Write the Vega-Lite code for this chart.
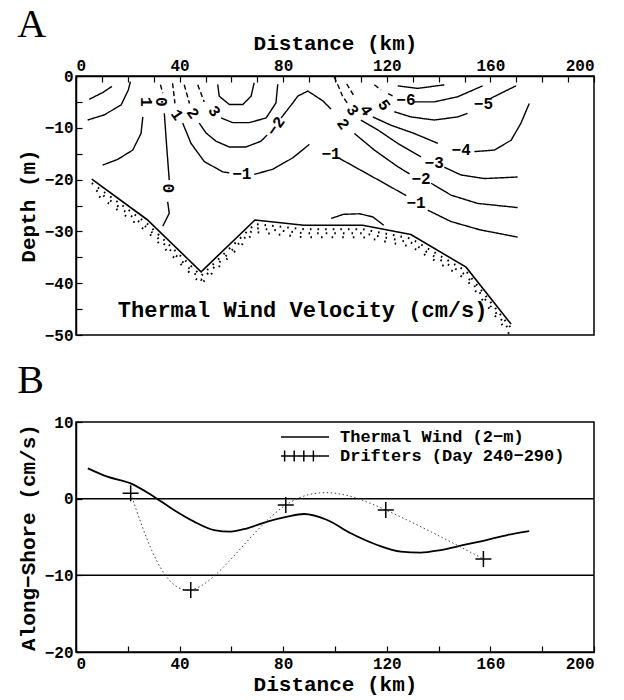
{
  "$schema": "https://vega.github.io/schema/vega-lite/v6.json",
  "padding": {"left": 16, "top": 4, "right": 6, "bottom": 2},
  "spacing": 16,
  "resolve": {"legend": {"shape": "independent"}},
  "config": {
    "view": {"stroke": "black", "strokeWidth": 1.5},
    "axis": {"labelFont": "Liberation Mono", "labelFontWeight": "bold", "labelFontSize": 16, "labelColor": "black", "titleFont": "Liberation Mono", "titleFontWeight": "bold", "titleFontSize": 21, "titleColor": "black", "domainColor": "black", "domainWidth": 1.5, "tickColor": "black", "tickWidth": 1.2, "tickSize": -6, "labelPadding": 9, "grid": false, "labelOverlap": false},
    "title": {"font": "Liberation Serif", "fontSize": 40, "fontWeight": "normal", "color": "black", "anchor": "start", "frame": "bounds"}
  },
  "datasets": {
    "bathymetry": [
      {"km": 6.1, "depth": -19.9}, {"km": 27.4, "depth": -27.7}, {"km": 48.3, "depth": -37.8}, {"km": 69.1, "depth": -27.8}, {"km": 88.0, "depth": -28.8}, {"km": 110.7, "depth": -28.8}, {"km": 129.3, "depth": -30.6}, {"km": 150.6, "depth": -36.9}, {"km": 168.0, "depth": -47.9}
    ],
    "stations": [
      {"km": 6.2}, {"km": 27.4}, {"km": 48.3}, {"km": 69.5}, {"km": 89.2}, {"km": 109.7}, {"km": 130.1}, {"km": 150.2}, {"km": 168.3}
    ],
    "annotations": [
      {"km": 87.5, "depth": -45.2, "note": "Thermal Wind Velocity (cm/s)"}
    ],
    "contours": [
      {"seg": "c1a", "kind": "solid", "km": 5.1, "depth": -4.5}, {"seg": "c1a", "kind": "solid", "km": 10.3, "depth": -3.2}, {"seg": "c1a", "kind": "solid", "km": 13.9, "depth": -2.0},
      {"seg": "c1b", "kind": "solid", "km": 4.5, "depth": -8.5}, {"seg": "c1b", "kind": "solid", "km": 10.9, "depth": -7.5}, {"seg": "c1b", "kind": "solid", "km": 17.4, "depth": -5.6}, {"seg": "c1b", "kind": "solid", "km": 20.2, "depth": -2.7}, {"seg": "c1b", "kind": "solid", "km": 21.0, "depth": -1.1},
      {"seg": "c1c", "kind": "solid", "km": 25.8, "depth": -7.9}, {"seg": "c1c", "kind": "solid", "km": 25.1, "depth": -11.1}, {"seg": "c1c", "kind": "solid", "km": 21.9, "depth": -14.3}, {"seg": "c1c", "kind": "solid", "km": 16.1, "depth": -16.1}, {"seg": "c1c", "kind": "solid", "km": 10.3, "depth": -17.2},
      {"seg": "c0a", "kind": "dashed", "km": 32.6, "depth": -1.7}, {"seg": "c0a", "kind": "dashed", "km": 33.5, "depth": -3.3},
      {"seg": "c0b", "kind": "solid", "km": 34.1, "depth": -7.2}, {"seg": "c0b", "kind": "solid", "km": 35.0, "depth": -13.5}, {"seg": "c0b", "kind": "solid", "km": 36.0, "depth": -20.1},
      {"seg": "c0c", "kind": "solid", "km": 35.4, "depth": -24.3}, {"seg": "c0c", "kind": "solid", "km": 36.0, "depth": -26.5}, {"seg": "c0c", "kind": "solid", "km": 33.5, "depth": -29.0},
      {"seg": "m1a", "kind": "dashed", "km": 37.3, "depth": -1.4}, {"seg": "m1a", "kind": "dashed", "km": 38.2, "depth": -5.3},
      {"seg": "m1b", "kind": "solid", "km": 41.2, "depth": -9.1}, {"seg": "m1b", "kind": "solid", "km": 44.4, "depth": -13.0}, {"seg": "m1b", "kind": "solid", "km": 49.5, "depth": -16.5}, {"seg": "m1b", "kind": "solid", "km": 56.6, "depth": -18.5}, {"seg": "m1b", "kind": "solid", "km": 59.2, "depth": -18.7},
      {"seg": "m1c", "kind": "solid", "km": 68.8, "depth": -19.0}, {"seg": "m1c", "kind": "solid", "km": 76.0, "depth": -18.0}, {"seg": "m1c", "kind": "solid", "km": 83.7, "depth": -15.8}, {"seg": "m1c", "kind": "solid", "km": 90.1, "depth": -13.2},
      {"seg": "m1e", "kind": "solid", "km": 101.7, "depth": -15.9}, {"seg": "m1e", "kind": "solid", "km": 110.0, "depth": -18.2}, {"seg": "m1e", "kind": "solid", "km": 119.0, "depth": -20.7}, {"seg": "m1e", "kind": "solid", "km": 127.5, "depth": -23.1},
      {"seg": "m1f", "kind": "solid", "km": 135.8, "depth": -25.9}, {"seg": "m1f", "kind": "solid", "km": 144.8, "depth": -28.1}, {"seg": "m1f", "kind": "solid", "km": 156.0, "depth": -29.7}, {"seg": "m1f", "kind": "solid", "km": 170.5, "depth": -31.1},
      {"seg": "m2a", "kind": "dashed", "km": 41.8, "depth": -1.7}, {"seg": "m2a", "kind": "dashed", "km": 43.8, "depth": -5.3},
      {"seg": "m2b", "kind": "solid", "km": 47.6, "depth": -9.1}, {"seg": "m2b", "kind": "solid", "km": 50.2, "depth": -11.0}, {"seg": "m2b", "kind": "solid", "km": 54.1, "depth": -12.6}, {"seg": "m2b", "kind": "solid", "km": 59.2, "depth": -13.7}, {"seg": "m2b", "kind": "solid", "km": 65.6, "depth": -13.7}, {"seg": "m2b", "kind": "solid", "km": 71.4, "depth": -12.6}, {"seg": "m2b", "kind": "solid", "km": 73.8, "depth": -11.4},
      {"seg": "m2c", "kind": "solid", "km": 79.2, "depth": -8.1}, {"seg": "m2c", "kind": "solid", "km": 83.7, "depth": -5.2}, {"seg": "m2c", "kind": "solid", "km": 85.6, "depth": -3.9}, {"seg": "m2c", "kind": "solid", "km": 89.5, "depth": -2.9}, {"seg": "m2c", "kind": "solid", "km": 95.3, "depth": -4.8}, {"seg": "m2c", "kind": "solid", "km": 98.5, "depth": -6.4},
      {"seg": "m2d", "kind": "solid", "km": 107.5, "depth": -11.1}, {"seg": "m2d", "kind": "solid", "km": 115.2, "depth": -14.3}, {"seg": "m2d", "kind": "solid", "km": 124.2, "depth": -17.5}, {"seg": "m2d", "kind": "solid", "km": 128.8, "depth": -18.9},
      {"seg": "m2e", "kind": "solid", "km": 137.1, "depth": -20.7}, {"seg": "m2e", "kind": "solid", "km": 144.8, "depth": -23.0}, {"seg": "m2e", "kind": "solid", "km": 155.1, "depth": -24.6}, {"seg": "m2e", "kind": "solid", "km": 170.5, "depth": -25.4},
      {"seg": "m3a", "kind": "dashed", "km": 47.0, "depth": -1.7}, {"seg": "m3a", "kind": "dashed", "km": 49.5, "depth": -5.0},
      {"seg": "m3b", "kind": "solid", "km": 56.0, "depth": -8.1}, {"seg": "m3b", "kind": "solid", "km": 60.5, "depth": -9.0}, {"seg": "m3b", "kind": "solid", "km": 66.9, "depth": -9.0}, {"seg": "m3b", "kind": "solid", "km": 73.4, "depth": -8.1}, {"seg": "m3b", "kind": "solid", "km": 77.2, "depth": -5.2}, {"seg": "m3b", "kind": "solid", "km": 77.9, "depth": -1.6},
      {"seg": "m4u", "kind": "solid", "km": 54.7, "depth": -1.6}, {"seg": "m4u", "kind": "solid", "km": 55.3, "depth": -3.9}, {"seg": "m4u", "kind": "solid", "km": 59.2, "depth": -5.5}, {"seg": "m4u", "kind": "solid", "km": 64.4, "depth": -5.5}, {"seg": "m4u", "kind": "solid", "km": 67.6, "depth": -3.9}, {"seg": "m4u", "kind": "solid", "km": 68.8, "depth": -1.3},
      {"seg": "r3a", "kind": "dashed", "km": 99.7, "depth": -0.2}, {"seg": "r3a", "kind": "dashed", "km": 101.7, "depth": -2.4}, {"seg": "r3a", "kind": "dashed", "km": 103.0, "depth": -4.0}, {"seg": "r3a", "kind": "dashed", "km": 104.9, "depth": -5.3},
      {"seg": "r3b", "kind": "solid", "km": 110.0, "depth": -8.5}, {"seg": "r3b", "kind": "solid", "km": 116.5, "depth": -10.4}, {"seg": "r3b", "kind": "solid", "km": 124.2, "depth": -13.0}, {"seg": "r3b", "kind": "solid", "km": 133.2, "depth": -15.6},
      {"seg": "r3c", "kind": "solid", "km": 142.2, "depth": -17.6}, {"seg": "r3c", "kind": "solid", "km": 148.6, "depth": -19.1}, {"seg": "r3c", "kind": "solid", "km": 157.6, "depth": -19.8}, {"seg": "r3c", "kind": "solid", "km": 170.5, "depth": -19.5},
      {"seg": "r4a", "kind": "dashed", "km": 104.5, "depth": -1.5}, {"seg": "r4a", "kind": "dashed", "km": 107.5, "depth": -4.0},
      {"seg": "r4b", "kind": "solid", "km": 114.6, "depth": -7.9}, {"seg": "r4b", "kind": "solid", "km": 121.6, "depth": -9.5}, {"seg": "r4b", "kind": "solid", "km": 130.6, "depth": -11.1}, {"seg": "r4b", "kind": "solid", "km": 139.7, "depth": -13.0},
      {"seg": "r4c", "kind": "solid", "km": 153.8, "depth": -14.6}, {"seg": "r4c", "kind": "solid", "km": 161.5, "depth": -14.3}, {"seg": "r4c", "kind": "solid", "km": 168.0, "depth": -12.4}, {"seg": "r4c", "kind": "solid", "km": 171.8, "depth": -9.1}, {"seg": "r4c", "kind": "solid", "km": 175.0, "depth": -5.3},
      {"seg": "r5a", "kind": "dashed", "km": 115.2, "depth": -1.7}, {"seg": "r5a", "kind": "dashed", "km": 117.8, "depth": -2.7},
      {"seg": "r5b", "kind": "solid", "km": 122.9, "depth": -6.9}, {"seg": "r5b", "kind": "solid", "km": 129.3, "depth": -7.9}, {"seg": "r5b", "kind": "solid", "km": 138.3, "depth": -8.5}, {"seg": "r5b", "kind": "solid", "km": 147.4, "depth": -7.9}, {"seg": "r5b", "kind": "solid", "km": 151.2, "depth": -7.2},
      {"seg": "r5c", "kind": "solid", "km": 160.2, "depth": -4.3}, {"seg": "r5c", "kind": "solid", "km": 165.4, "depth": -3.0}, {"seg": "r5c", "kind": "solid", "km": 169.9, "depth": -1.9},
      {"seg": "r6a", "kind": "dashed", "km": 120.5, "depth": -3.4}, {"seg": "r6a", "kind": "dashed", "km": 123.0, "depth": -4.0},
      {"seg": "r6b", "kind": "solid", "km": 130.6, "depth": -5.0}, {"seg": "r6b", "kind": "solid", "km": 138.3, "depth": -5.0}, {"seg": "r6b", "kind": "solid", "km": 147.4, "depth": -4.0}, {"seg": "r6b", "kind": "solid", "km": 157.0, "depth": -1.9},
      {"seg": "r7", "kind": "solid", "km": 124.2, "depth": -1.9}, {"seg": "r7", "kind": "solid", "km": 131.9, "depth": -2.4}, {"seg": "r7", "kind": "solid", "km": 142.2, "depth": -1.7},
      {"seg": "arc", "kind": "solid", "km": 98.5, "depth": -27.5}, {"seg": "arc", "kind": "solid", "km": 103.3, "depth": -26.7}, {"seg": "arc", "kind": "solid", "km": 109.5, "depth": -26.6}, {"seg": "arc", "kind": "solid", "km": 114.6, "depth": -27.2}, {"seg": "arc", "kind": "solid", "km": 118.8, "depth": -28.8}
    ],
    "labelsFlat": [
      {"label": "−1", "km": 64.0, "depth": -19.0}, {"label": "−1", "km": 98.5, "depth": -15.1}, {"label": "−1", "km": 131.3, "depth": -24.6},
      {"label": "−2", "km": 133.2, "depth": -19.8}, {"label": "−3", "km": 138.3, "depth": -16.7}, {"label": "−4", "km": 148.7, "depth": -14.3},
      {"label": "−5", "km": 157.3, "depth": -5.4}, {"label": "−6", "km": 127.4, "depth": -4.7}
    ],
    "labelsVertical": [
      {"label": "1", "km": 27.0, "depth": -5.0}, {"label": "0", "km": 32.8, "depth": -5.0}, {"label": "0", "km": 35.4, "depth": -21.7}
    ],
    "labelsSlant": [
      {"label": "1", "km": 39.0, "depth": -7.5}, {"label": "2", "km": 45.1, "depth": -7.2}, {"label": "3", "km": 53.4, "depth": -6.8},
      {"label": "2", "km": 103.1, "depth": -9.3}, {"label": "3", "km": 106.8, "depth": -6.6}, {"label": "4", "km": 112.0, "depth": -6.6}, {"label": "5", "km": 119.0, "depth": -5.6}
    ],
    "labelsBack": [
      {"label": "−2", "km": 77.2, "depth": -9.7}
    ],
    "thermalWind": [
      {"km": 4.6, "v": 3.96}, {"km": 12.1, "v": 2.87}, {"km": 21.1, "v": 2.0}, {"km": 30.1, "v": 0.26}, {"km": 37.8, "v": -1.48}, {"km": 45.6, "v": -3.0}, {"km": 53.3, "v": -4.09}, {"km": 59.7, "v": -4.3}, {"km": 66.1, "v": -3.86}, {"km": 73.9, "v": -3.0}, {"km": 81.6, "v": -2.35}, {"km": 88.0, "v": -2.0}, {"km": 97.0, "v": -2.78}, {"km": 106.1, "v": -4.52}, {"km": 116.3, "v": -6.04}, {"km": 125.4, "v": -6.91}, {"km": 133.1, "v": -7.04}, {"km": 140.8, "v": -6.7}, {"km": 149.8, "v": -6.04}, {"km": 158.8, "v": -5.39}, {"km": 166.5, "v": -4.74}, {"km": 175.0, "v": -4.22}
    ],
    "drifters": [
      {"km": 21.1, "v": 0.7, "series": "Drifters (Day 240−290)"}, {"km": 44.3, "v": -11.9, "series": "Drifters (Day 240−290)"}, {"km": 81.0, "v": -0.83, "series": "Drifters (Day 240−290)"}, {"km": 119.6, "v": -1.48, "series": "Drifters (Day 240−290)"}, {"km": 157.3, "v": -7.87, "series": "Drifters (Day 240−290)"}
    ],
    "refLines": [{"v": 0}, {"v": -10}]
  },
  "vconcat": [
    {
      "width": 518,
      "height": 259,
      "title": {"text": "A", "offset": -13},
      "encoding": {
        "x": {"field": "km", "type": "quantitative", "scale": {"domain": [0, 200], "nice": false},
              "axis": {"orient": "top", "title": "Distance (km)", "values": [0, 10, 20, 30, 40, 50, 60, 70, 80, 90, 100, 110, 120, 130, 140, 150, 160, 170, 180, 190, 200], "labelExpr": "datum.value % 40 === 0 ? datum.label : ''", "titlePadding": 4}},
        "y": {"field": "depth", "type": "quantitative", "scale": {"domain": [-50, 0], "nice": false},
              "axis": {"title": "Depth (m)", "values": [-50, -45, -40, -35, -30, -25, -20, -15, -10, -5, 0], "labelExpr": "datum.value % 10 === 0 ? datum.label : ''", "titlePadding": 6}}
      },
      "layer": [
        {"data": {"name": "bathymetry"}, "mark": {"type": "line", "stroke": "black", "strokeWidth": 2, "strokeDash": [1.6, 6], "yOffset": 4}},
        {"data": {"name": "bathymetry"}, "mark": {"type": "line", "stroke": "black", "strokeWidth": 2, "strokeDash": [1.6, 7], "strokeDashOffset": 3, "yOffset": 8}},
        {"data": {"name": "bathymetry"}, "mark": {"type": "line", "stroke": "black", "strokeWidth": 2, "strokeDash": [1.6, 9], "strokeDashOffset": 1.5, "yOffset": 12}},
        {"data": {"name": "bathymetry"}, "mark": {"type": "line", "stroke": "black", "strokeWidth": 1.6}},
        {"data": {"name": "contours"}, "mark": {"type": "line", "stroke": "black", "strokeWidth": 1.4},
         "encoding": {"detail": {"field": "seg"}, "order": {"value": null},
                      "strokeDash": {"field": "kind", "type": "nominal", "scale": {"domain": ["solid", "dashed"], "range": [[1, 0], [5, 3]]}, "legend": null}}},
        {"data": {"name": "labelsFlat"}, "mark": {"type": "text", "font": "Liberation Mono", "fontWeight": "bold", "fontSize": 16, "color": "black"}, "encoding": {"text": {"field": "label"}}},
        {"data": {"name": "labelsVertical"}, "mark": {"type": "text", "font": "Liberation Mono", "fontWeight": "bold", "fontSize": 16, "color": "black", "angle": 90}, "encoding": {"text": {"field": "label"}}},
        {"data": {"name": "labelsSlant"}, "mark": {"type": "text", "font": "Liberation Mono", "fontWeight": "bold", "fontSize": 16, "color": "black", "angle": 55}, "encoding": {"text": {"field": "label"}}},
        {"data": {"name": "labelsBack"}, "mark": {"type": "text", "font": "Liberation Mono", "fontWeight": "bold", "fontSize": 16, "color": "black", "angle": -55}, "encoding": {"text": {"field": "label"}}},
        {"data": {"name": "stations"}, "mark": {"type": "point", "shape": "triangle-down", "filled": true, "color": "black", "opacity": 1, "size": 70, "yOffset": 4}, "encoding": {"y": {"datum": 0}}},
        {"data": {"name": "annotations"}, "mark": {"type": "text", "font": "Liberation Mono", "fontWeight": "bold", "fontSize": 22, "color": "black"},
         "encoding": {"text": {"field": "note"}}}
      ]
    },
    {
      "width": 518,
      "height": 230,
      "title": {"text": "B", "offset": 13},
      "layer": [
        {"data": {"name": "refLines"}, "mark": {"type": "rule", "stroke": "black", "strokeWidth": 1.5},
         "encoding": {"y": {"field": "v", "type": "quantitative", "scale": {"domain": [-20, 10], "nice": false}}}},
        {"data": {"name": "thermalWind"}, "mark": {"type": "line", "stroke": "black", "strokeWidth": 1.8, "interpolate": "monotone"},
         "encoding": {
           "x": {"field": "km", "type": "quantitative", "scale": {"domain": [0, 200], "nice": false},
                 "axis": {"title": "Distance (km)", "values": [0, 10, 20, 30, 40, 50, 60, 70, 80, 90, 100, 110, 120, 130, 140, 150, 160, 170, 180, 190, 200], "labelExpr": "datum.value % 40 === 0 ? datum.label : ''", "titlePadding": 2}},
           "y": {"field": "v", "type": "quantitative", "scale": {"domain": [-20, 10], "nice": false},
                 "axis": {"title": "Along−Shore (cm/s)", "values": [-20, -15, -10, -5, 0, 5, 10], "titlePadding": 6}}
         }},
        {"data": {"name": "drifters"}, "mark": {"type": "line", "stroke": "#444", "strokeWidth": 1, "strokeDash": [1.5, 2.5], "interpolate": "natural"},
         "encoding": {"x": {"field": "km", "type": "quantitative", "scale": {"domain": [0, 200], "nice": false}}, "y": {"field": "v", "type": "quantitative", "scale": {"domain": [-20, 10], "nice": false}}}},
        {"data": {"name": "drifters"}, "mark": {"type": "point", "shape": "M-1,0H1M0,-1V1", "filled": false, "stroke": "black", "strokeWidth": 1.5, "size": 256, "opacity": 1},
         "encoding": {
           "x": {"field": "km", "type": "quantitative", "scale": {"domain": [0, 200], "nice": false}},
           "y": {"field": "v", "type": "quantitative", "scale": {"domain": [-20, 10], "nice": false}}
         }},
        {"data": {"name": "drifters"}, "mark": {"type": "point", "filled": false, "stroke": "black", "strokeWidth": 1.5, "size": 256, "opacity": 0},
         "encoding": {
           "x": {"field": "km", "type": "quantitative", "scale": {"domain": [0, 200], "nice": false}},
           "y": {"field": "v", "type": "quantitative", "scale": {"domain": [-20, 10], "nice": false}},
           "shape": {"field": "series", "type": "nominal",
                     "scale": {"domain": ["Thermal Wind (2−m)", "Drifters (Day 240−290)"], "range": ["M-3,0H3", "M-3,0H3M-2.55,-0.7V0.7M-1.35,-0.7V0.7M-0.15,-0.7V0.7M1.05,-0.7V0.7"]},
                     "legend": {"orient": "none", "legendX": 220, "legendY": 6, "title": null, "symbolSize": 256, "symbolOpacity": 1, "symbolStrokeColor": "black", "symbolStrokeWidth": 1.5, "symbolFillColor": "transparent", "labelFont": "Liberation Mono", "labelFontWeight": "bold", "labelFontSize": 17, "labelColor": "black", "labelOffset": 26, "labelLimit": 0, "rowPadding": 2}}
         }}
      ]
    }
  ]
}
